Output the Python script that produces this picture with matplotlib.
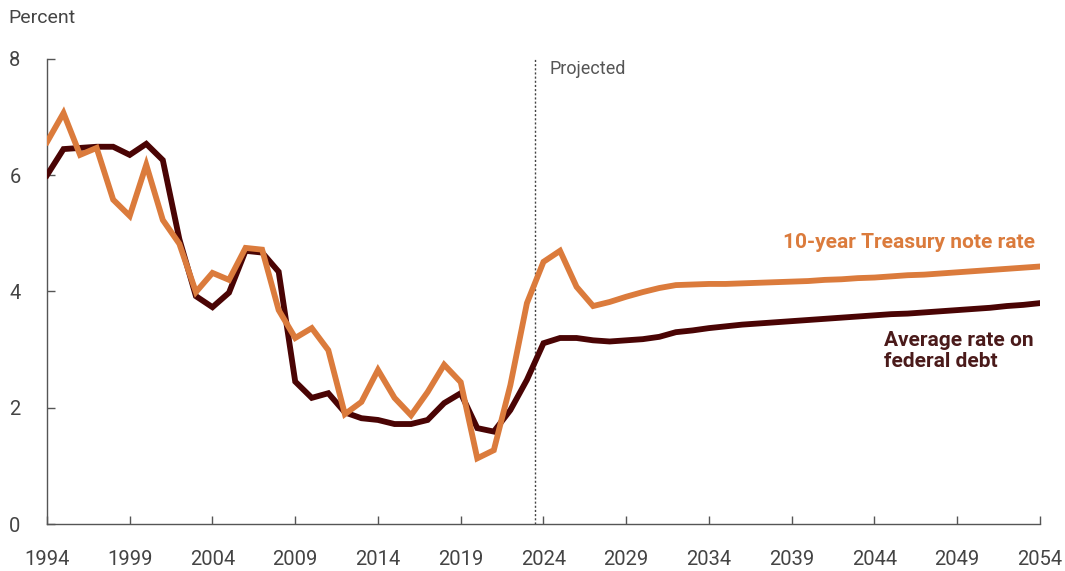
import matplotlib.pyplot as plt
import numpy as np

plt.rcParams['font.family'] = ['Roboto', 'DejaVu Sans']

years = np.arange(1994, 2055)

treasury = [6.57, 7.07, 6.35, 6.47, 5.58, 5.30, 6.18, 5.23, 4.82, 3.99,
            4.32, 4.20, 4.75, 4.72, 3.68, 3.20, 3.37, 2.99, 1.89, 2.10,
            2.65, 2.17, 1.87, 2.27, 2.74, 2.44, 1.13, 1.27, 2.39, 3.80,
            4.51, 4.70, 4.08, 3.75, 3.82, 3.91, 3.99, 4.06, 4.11, 4.12,
            4.13, 4.13, 4.14, 4.15, 4.16, 4.17, 4.18, 4.20, 4.21, 4.23,
            4.24, 4.26, 4.28, 4.29, 4.31, 4.33, 4.35, 4.37, 4.39, 4.41, 4.43]

avg_rate = [6.00, 6.45, 6.47, 6.49, 6.49, 6.35, 6.54, 6.26, 4.90, 3.92,
            3.73, 3.98, 4.70, 4.67, 4.34, 2.45, 2.17, 2.25, 1.92, 1.82,
            1.79, 1.72, 1.72, 1.79, 2.08, 2.25, 1.65, 1.59, 1.96, 2.48,
            3.11, 3.20, 3.20, 3.16, 3.14, 3.16, 3.18, 3.22, 3.30, 3.33,
            3.37, 3.40, 3.43, 3.45, 3.47, 3.49, 3.51, 3.53, 3.55, 3.57,
            3.59, 3.61, 3.62, 3.64, 3.66, 3.68, 3.70, 3.72, 3.75, 3.77, 3.80]

xticks = np.arange(1994, 2055, 5)
yticks = [0, 2, 4, 6, 8]
projection_start = 2023.5

orange = '#DB7B3C'
maroon = '#4A0404'
grey = '#555555'

fig = plt.figure(figsize=(10.65, 5.71), dpi=100)
ax = fig.add_axes([0.0441, 0.0823, 0.9324, 0.8144])

ax.plot(years, avg_rate, color=maroon, lw=4.2, solid_joinstyle='miter', zorder=3)
ax.plot(years, treasury, color=orange, lw=4.2, solid_joinstyle='miter', zorder=4)

ax.axvline(projection_start, color='#444444', lw=1, ls=(0, (1.5, 1.5)), zorder=2)
ax.text(projection_start + 0.85, 7.82, 'Projected', color='#555555', fontsize=13,
        va='center', ha='left')

ax.text(2053.7, 4.85, '10-year Treasury note rate', color=orange, fontsize=15,
        fontweight='bold', ha='right', va='center')
ax.text(2044.6, 2.98, 'Average rate on\nfederal debt', color='#4A1A1A', fontsize=15,
        fontweight='bold', ha='left', va='center', linespacing=1.1)

ax.set_xlim(1994, 2054)
ax.set_ylim(0, 8)
ax.set_xticks(xticks)
ax.set_yticks(yticks)
ax.tick_params(direction='in', length=6, width=1, color=grey, labelcolor='#444444',
               labelsize=14.5)
ax.tick_params(axis='x', pad=19)
ax.tick_params(axis='y', pad=19)
for s in ['top', 'right']:
    ax.spines[s].set_visible(False)
for s in ['left', 'bottom']:
    ax.spines[s].set_color(grey)
    ax.spines[s].set_linewidth(1)

fig.text(0.008, 0.968, 'Percent', color='#444444', fontsize=14, ha='left', va='center')

fig.savefig('out.png', dpi=100)
